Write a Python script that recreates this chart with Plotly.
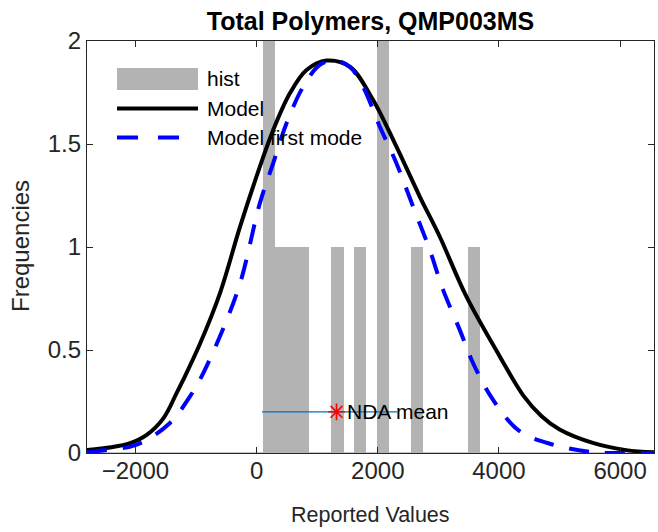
import plotly.graph_objects as go

# ---------------- data ----------------
bin_centers = [200, 403, 585, 765, 1335, 1709, 2091, 2649, 3589]
bin_counts = [2, 1, 1, 1, 1, 1, 2, 1, 1]
bin_width = 203

model_x = [-2800, -2400, -2088, -1814, -1540, -1319, -1210, -935, -600, -272, 54, 274,
           549, 824, 1154, 1538, 1923, 2308, 2693, 3022, 3462, 4014, 4400, 4700, 5002,
           5551, 6101, 6560]
model_y = [0.015, 0.028, 0.048, 0.088, 0.168, 0.292, 0.356, 0.53, 0.78, 1.10, 1.39, 1.568,
           1.746, 1.859, 1.905, 1.875, 1.714, 1.487, 1.245, 1.051, 0.760, 0.469, 0.28, 0.18,
           0.114, 0.049, 0.014, 0.004]

mode1_x = [-2800, -2638, -1979, -1430, -1100, -935, -600, -272, 54, 274, 494, 769,
           1044, 1290, 1538, 1758, 2033, 2308, 2582, 2857, 3077, 3352, 3572, 3901,
           4342, 4891, 5551, 6210, 6560]
mode1_y = [0.004, 0.009, 0.041, 0.146, 0.275, 0.356, 0.57, 0.825, 1.213, 1.407, 1.601, 1.778,
           1.884, 1.905, 1.875, 1.778, 1.585, 1.407, 1.197, 0.987, 0.793, 0.599, 0.437, 0.259,
           0.106, 0.041, 0.004, 0.0, 0.0]

nda_mean = 1319
nda_level = 0.2
nda_range = [90, 2320]

x_ticks = [-2000, 0, 2000, 4000, 6000]
y_ticks = [0, 0.5, 1, 1.5, 2]
y_ticktext = ["0", "0.5", "1", "1.5", "2"]

x_range = [-2800, 6560]
y_range = [0, 2]

title_text = "Total Polymers, QMP003MS"
legend_labels = ["hist", "Model", "Model first mode"]

# ---------------- layout constants ----------------
W, H = 658, 532
ML, MR, MT, MB = 87, 4, 41, 79
PW = W - ML - MR
PH = H - MT - MB
FONT = "Liberation Sans, Arial, Helvetica, sans-serif"
AXC = "#262626"


def px_x(px):
    return (px - ML) / PW


def px_y(py):
    return (H - MB - py) / PH


fig = go.Figure()

fig.add_trace(go.Bar(x=bin_centers, y=bin_counts, width=bin_width,
                     marker=dict(color="#b3b3b3", line=dict(width=0)),
                     showlegend=False))

fig.add_trace(go.Scatter(x=model_x, y=model_y, mode="lines",
                         line=dict(color="black", width=4, shape="spline", smoothing=1),
                         showlegend=False))

fig.add_trace(go.Scatter(x=mode1_x, y=mode1_y, mode="lines",
                         line=dict(color="#0000ff", width=4, shape="spline", smoothing=1,
                                   dash="20px,16px"),
                         showlegend=False))

fig.add_trace(go.Scatter(x=nda_range, y=[nda_level, nda_level], mode="lines",
                         line=dict(color="#0072BD", width=1.2), showlegend=False))

fig.add_trace(go.Scatter(x=[nda_mean], y=[nda_level], mode="markers",
                         marker=dict(symbol="asterisk-open", size=14, color="#ff0000",
                                     line=dict(color="#ff0000", width=1.6)),
                         showlegend=False))

annotations = [
    dict(x=nda_mean, y=nda_level, xref="x", yref="y", text="NDA mean",
         showarrow=False, xanchor="left", yanchor="middle", xshift=8,
         font=dict(family=FONT, size=21, color="black")),
    dict(x=0.5, y=px_y(515), xref="paper", yref="paper", text="Reported Values",
         showarrow=False, xanchor="center", yanchor="middle",
         font=dict(family=FONT, size=21.5, color=AXC)),
    dict(x=px_x(20), y=px_y(246), xref="paper", yref="paper", text="Frequencies",
         showarrow=False, xanchor="center", yanchor="middle", textangle=-90,
         font=dict(family=FONT, size=24, color=AXC)),
]

# manual legend (no box)
shapes = [
    dict(type="rect", xref="paper", yref="paper",
         x0=px_x(117), x1=px_x(198), y0=px_y(90), y1=px_y(68),
         fillcolor="#b3b3b3", line=dict(width=0), layer="above"),
    dict(type="line", xref="paper", yref="paper",
         x0=px_x(117), x1=px_x(198), y0=px_y(108.5), y1=px_y(108.5),
         line=dict(color="black", width=4), layer="above"),
    dict(type="line", xref="paper", yref="paper",
         x0=px_x(117), x1=px_x(198), y0=px_y(137.5), y1=px_y(137.5),
         line=dict(color="#0000ff", width=4, dash="21px,20px"), layer="above"),
    # bar baseline
    dict(type="line", xref="paper", yref="y", x0=0, x1=1, y0=0, y1=0,
         line=dict(color="#b3b3b3", width=1.5), layer="below"),
]
for lbl, py in zip(legend_labels, [79, 108.5, 137.5]):
    annotations.append(dict(x=px_x(205), y=px_y(py), xref="paper", yref="paper",
                            text=lbl, showarrow=False, xanchor="left", yanchor="middle",
                            font=dict(family=FONT, size=21, color="black")))

fig.update_layout(
    width=W, height=H,
    margin=dict(l=ML, r=MR, t=MT, b=MB, pad=0),
    paper_bgcolor="white", plot_bgcolor="white",
    showlegend=False,
    bargap=0,
    title=dict(text=title_text, x=(ML + PW / 2) / W, xanchor="center",
               y=1 - 21 / H, yanchor="middle", yref="container",
               font=dict(family=FONT, size=25, color="black", weight="bold")),
    xaxis=dict(range=x_range, tickvals=x_ticks, ticks="inside", ticklen=6,
               tickcolor=AXC, tickwidth=1.2, showline=True, linecolor=AXC, linewidth=1.3,
               mirror="ticks", showgrid=False, zeroline=False, ticklabelstandoff=-4,
               tickfont=dict(family=FONT, size=24, color=AXC)),
    yaxis=dict(range=y_range, tickvals=y_ticks, ticktext=y_ticktext, ticks="inside",
               ticklen=6, tickcolor=AXC, tickwidth=1.2, showline=True, linecolor=AXC,
               linewidth=1.3, mirror="ticks", showgrid=False, zeroline=False,
               tickfont=dict(family=FONT, size=24, color=AXC)),
    annotations=annotations,
    shapes=shapes,
)

fig.write_html("out.html", config={"displayModeBar": False},
               post_script="document.body.style.margin='0';document.body.style.overflow='hidden';")
